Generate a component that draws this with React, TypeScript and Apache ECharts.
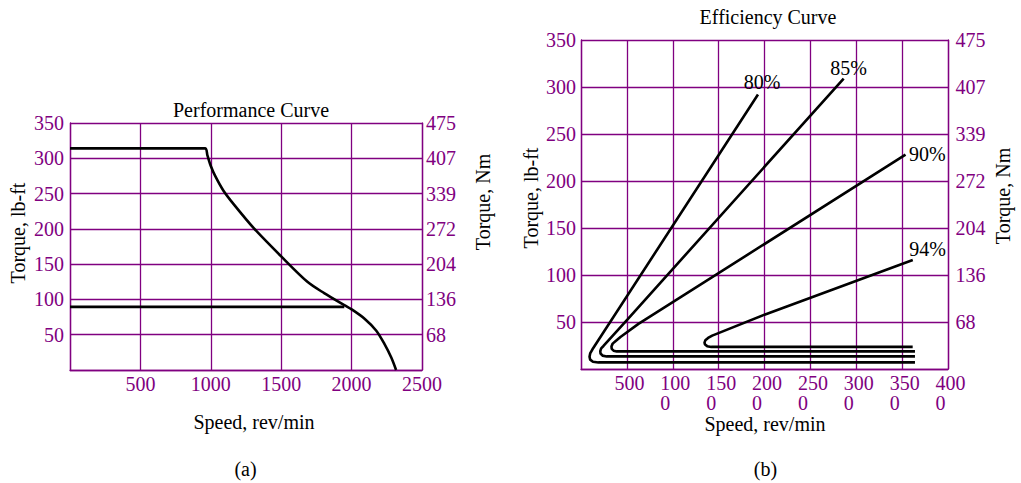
import React, { useEffect, useRef } from 'react';
import * as echarts from 'echarts';

const PURPLE = '#800080';
const FONT = "'Liberation Serif', 'Times New Roman', Times, serif";

// ---------- (a) Performance Curve ----------
const perfSpeedMax = 2500;
const perfTorqueMax = 350;
const perfNmLabels = ['', '68', '136', '204', '272', '339', '407', '475'];
const perfCurveSpeed = [0, 959, 976, 1000, 1031, 1090, 1162, 1305, 1500, 1686, 1805, 1948, 2000, 2090, 2174, 2233, 2281, 2316];
const perfCurveTorque = [314, 314, 304, 289, 275, 254, 235, 201, 161, 125, 109, 92, 86, 73, 56, 37, 18, 0];
const perfLimitSpeed = [0, 1948];
const perfLimitTorque = [89.5, 89.5];

// ---------- (b) Efficiency Curve ----------
const effSpeedMax = 4000;
const effTorqueMax = 350;
const effSpeedLabels = ['', '500', '100\n0', '150\n0', '200\n0', '250\n0', '300\n0', '350\n0', '400\n0'];
const effNmLabels = ['', '68', '136', '204', '272', '339', '407', '475'];
const effLevels = ['80%', '85%', '90%', '94%'];
const eff80Speed = [3640, 190, 130, 100, 93, 100, 125, 1929];
const eff80Torque = [7, 7, 7.8, 10, 13, 16.5, 21, 292];
const eff85Speed = [3640, 280, 235, 213, 210, 220, 245, 505, 2863];
const eff85Torque = [13.4, 13.4, 14.2, 16.5, 19, 22, 24.5, 52.5, 309];
const eff90Speed = [3640, 390, 355, 335, 332, 345, 375, 430, 626, 3537];
const eff90Torque = [18.7, 18.7, 19.5, 21.5, 24, 27, 29.5, 34, 48, 228];
const eff94Speed = [3615, 1420, 1375, 1352, 1346, 1355, 1385, 1430, 2000, 3616];
const eff94Torque = [23.5, 23.5, 24.3, 26, 28, 30.5, 33, 35.5, 57.8, 116];

const effSpeeds = [eff80Speed, eff85Speed, eff90Speed, eff94Speed];
const effTorques = [eff80Torque, eff85Torque, eff90Torque, eff94Torque];

const effLabelStyles: any[] = [
  { position: 'top', distance: 2, offset: [4, 0] },
  { position: 'top', distance: 2, offset: [5, 2] },
  { position: 'right', distance: 3, offset: [0, -1] },
  { position: 'right', distance: 0, offset: [-4, -11] },
];

const zip = (xs: number[], ys: number[]) => xs.map((x, i) => [x, ys[i]]);

const tickLabel = { color: PURPLE, fontSize: 20, fontFamily: FONT };
const gridLine = { show: true, lineStyle: { color: PURPLE, width: 1.3 } };
const axisLine = { show: true, lineStyle: { color: PURPLE, width: 1.3 } };

function buildOption(): any {
  const effSeries = effLevels.map((name, k) => {
    const pts = zip(effSpeeds[k], effTorques[k]);
    const last = pts.length - 1;
    return {
      type: 'line',
      name,
      xAxisIndex: 1,
      yAxisIndex: 2,
      symbol: 'circle',
      symbolSize: 1,
      showSymbol: true,
      showAllSymbol: true,
      itemStyle: { color: 'rgba(0,0,0,0)' },
      lineStyle: { color: '#000', width: 2.6 },
      label: { show: false },
      emphasis: { disabled: true },
      data: pts.map((p, i) =>
        i === last
          ? {
              value: p,
              label: {
                show: true,
                formatter: name,
                color: '#000',
                fontSize: 20,
                fontFamily: FONT,
                ...effLabelStyles[k],
              },
            }
          : { value: p }
      ),
    };
  });

  return {
    animation: false,
    backgroundColor: '#fff',
    grid: [
      { left: 70, top: 123, width: 352, height: 247, outerBoundsMode: 'none', containLabel: false },
      { left: 581, top: 40, width: 367, height: 329, outerBoundsMode: 'none', containLabel: false },
    ],
    xAxis: [
      {
        gridIndex: 0,
        type: 'value',
        min: 0,
        max: perfSpeedMax,
        interval: 500,
        axisLine,
        axisTick: { show: false },
        splitLine: gridLine,
        axisLabel: {
          ...tickLabel,
          margin: 4,
          showMinLabel: true,
          showMaxLabel: true,
          formatter: (v: number) => (v === 0 ? '' : String(v)),
        },
      },
      {
        gridIndex: 1,
        type: 'value',
        min: 0,
        max: effSpeedMax,
        interval: 500,
        axisLine,
        axisTick: { show: false },
        splitLine: gridLine,
        axisLabel: {
          ...tickLabel,
          margin: 4,
          padding: [0, 0, 0, 5],
          showMinLabel: true,
          showMaxLabel: true,
          formatter: (v: number) => {
            const s = effSpeedLabels[Math.round(v / 500)] || '';
            if (!s) return '';
            return s
              .split('\n')
              .map((t) => '{l|' + t + '}')
              .join('\n');
          },
          rich: { l: { color: PURPLE, fontSize: 20, fontFamily: FONT, align: 'left', lineHeight: 20 } },
        },
      },
    ],
    yAxis: [
      {
        gridIndex: 0,
        type: 'value',
        position: 'left',
        min: 0,
        max: perfTorqueMax,
        interval: 50,
        axisLine,
        axisTick: { show: false },
        splitLine: gridLine,
        axisLabel: {
          ...tickLabel,
          margin: 6,
          showMinLabel: true,
          showMaxLabel: true,
          formatter: (v: number) => (v === 0 ? '' : String(v)),
        },
      },
      {
        gridIndex: 0,
        type: 'value',
        position: 'right',
        min: 0,
        max: perfTorqueMax,
        interval: 50,
        axisLine,
        axisTick: { show: false },
        splitLine: { show: false },
        axisLabel: {
          ...tickLabel,
          margin: 4,
          showMinLabel: true,
          showMaxLabel: true,
          formatter: (v: number) => perfNmLabels[Math.round(v / 50)] || '',
        },
      },
      {
        gridIndex: 1,
        type: 'value',
        position: 'left',
        min: 0,
        max: effTorqueMax,
        interval: 50,
        axisLine,
        axisTick: { show: false },
        splitLine: gridLine,
        axisLabel: {
          ...tickLabel,
          margin: 5,
          showMinLabel: true,
          showMaxLabel: true,
          formatter: (v: number) => (v === 0 ? '' : String(v)),
        },
      },
      {
        gridIndex: 1,
        type: 'value',
        position: 'right',
        min: 0,
        max: effTorqueMax,
        interval: 50,
        axisLine,
        axisTick: { show: false },
        splitLine: { show: false },
        axisLabel: {
          ...tickLabel,
          margin: 7.5,
          showMinLabel: true,
          showMaxLabel: true,
          formatter: (v: number) => effNmLabels[Math.round(v / 50)] || '',
        },
      },
    ],
    series: [
      {
        type: 'line',
        name: 'Torque',
        xAxisIndex: 0,
        yAxisIndex: 0,
        symbol: 'none',
        smooth: 0.3,
        lineStyle: { color: '#000', width: 2.6 },
        emphasis: { disabled: true },
        data: zip(perfCurveSpeed, perfCurveTorque),
      },
      {
        type: 'line',
        name: 'Limit',
        xAxisIndex: 0,
        yAxisIndex: 0,
        symbol: 'none',
        lineStyle: { color: '#000', width: 2.6 },
        emphasis: { disabled: true },
        data: zip(perfLimitSpeed, perfLimitTorque),
      },
      ...effSeries,
    ],
    graphic: [
      txt('Performance Curve', 251, 110),
      txt('Torque, lb-ft', 18, 233, true),
      txt('Torque, Nm', 483, 202, true),
      txt('Speed, rev/min', 254, 422),
      txt('(a)', 245.5, 469),
      txt('Efficiency Curve', 768, 17),
      txt('Torque, lb-ft', 531, 198, true),
      txt('Torque, Nm', 1003, 196, true),
      txt('Speed, rev/min', 765, 424),
      txt('(b)', 765.5, 469),
    ],
  };
}

function txt(text: string, x: number, y: number, rotated = false): any {
  return {
    type: 'text',
    x,
    y,
    rotation: rotated ? Math.PI / 2 : 0,
    silent: true,
    style: {
      text,
      fill: '#000',
      font: `20px ${FONT}`,
      align: 'center',
      verticalAlign: 'middle',
    },
  };
}

export default function App() {
  const ref = useRef<HTMLDivElement>(null);
  useEffect(() => {
    if (!ref.current) return;
    const chart = echarts.init(ref.current, null, { renderer: 'svg' });
    chart.setOption(buildOption());
    return () => chart.dispose();
  }, []);
  return (
    <div
      ref={ref}
      style={{ position: 'fixed', left: 0, top: 0, width: 1021, height: 483, background: '#fff' }}
    />
  );
}
